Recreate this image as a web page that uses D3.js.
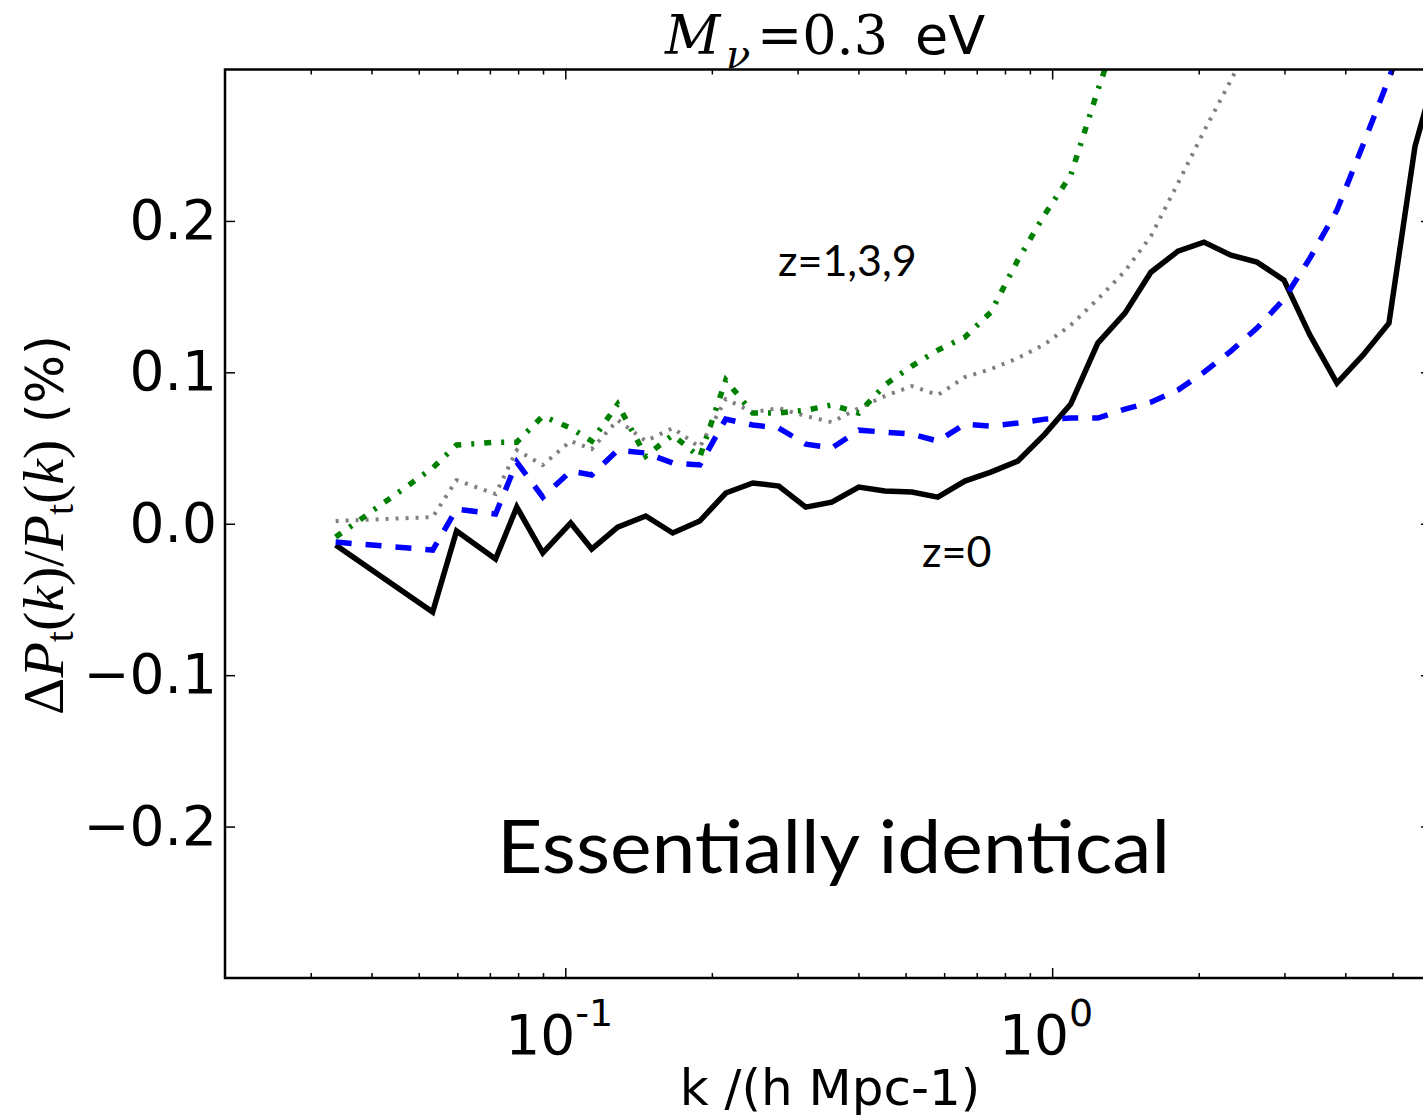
<!DOCTYPE html>
<html>
<head>
<meta charset="utf-8">
<script src="https://cdn.jsdelivr.net/npm/d3@7"></script>
<style>
body { margin: 0; background: #fff; }
</style>
</head>
<body>
<div id="chart"></div>
<script>
// k bins (h/Mpc), shared by all four redshifts
const kVals = [0.03375, 0.0534, 0.0598, 0.0719, 0.0795, 0.0899, 0.1026, 0.1133, 0.1281, 0.1463,
  0.1662, 0.1889, 0.2136, 0.2427, 0.2745, 0.3118, 0.3526, 0.4007, 0.4532, 0.5149,
  0.5823, 0.6616, 0.7482, 0.850, 0.966, 1.092, 1.241, 1.411, 1.595, 1.813,
  2.050, 2.329, 2.634, 2.993, 3.384, 3.846, 4.348, 4.918, 5.563, 6.319];

// z=0, black solid
const z0 = [-0.0141, -0.0583, -0.0048, -0.0233, 0.0110, -0.0193, 0.0005, -0.0167, -0.0022, 0.0051,
  -0.0061, 0.0018, 0.0203, 0.0269, 0.0249, 0.0110, 0.0143, 0.0242, 0.0216, 0.0209,
  0.0176, 0.0282, 0.0341, 0.0414, 0.0592, 0.0790, 0.1193, 0.1391, 0.1661, 0.1800,
  0.1860, 0.1774, 0.1728, 0.1609, 0.1246, 0.0929, 0.1113, 0.1325, 0.2493, 0.313];

// z=1, blue dashed
const z1 = [-0.0121, -0.0174, 0.0097, 0.0064, 0.0407, 0.0176, 0.0348, 0.0322, 0.0486, 0.0467,
  0.0401, 0.0388, 0.0691, 0.0652, 0.0632, 0.0526, 0.0500, 0.0618, 0.0605, 0.0592,
  0.0546, 0.0658, 0.0645, 0.0665, 0.0691, 0.0698, 0.0698, 0.0757, 0.0803, 0.0883,
  0.1001, 0.1140, 0.1292, 0.1483, 0.1754, 0.2071, 0.2500, 0.2942, 0.3391];

// z=3, grey dotted
const z3 = [0.0018, 0.0044, 0.0288, 0.0196, 0.0486, 0.0388, 0.0546, 0.0493, 0.0685, 0.0546,
  0.0632, 0.0506, 0.0823, 0.0737, 0.0764, 0.0711, 0.0671, 0.0764, 0.0843, 0.0909,
  0.0850, 0.0968, 0.1021, 0.1094, 0.1186, 0.1312, 0.1483, 0.1668, 0.1899, 0.2249,
  0.2592, 0.2929, 0.3259];

// z=9, green dash-dot
const z9 = [-0.0088, 0.0368, 0.0520, 0.0539, 0.0539, 0.0711, 0.0632, 0.0546, 0.0790, 0.0447,
  0.0586, 0.0440, 0.0949, 0.0731, 0.0731, 0.0750, 0.0784, 0.0731, 0.0916, 0.1041,
  0.1147, 0.1232, 0.1397, 0.1741, 0.2044, 0.2302, 0.2863, 0.3391];

const yTicks = [-0.2, -0.1, 0.0, 0.1, 0.2];
const xMajor = [0.1, 1];
const xMajorExp = ["-1", "0"];
const xMinor = [0.03, 0.04, 0.05, 0.06, 0.07, 0.08, 0.09, 0.2, 0.3, 0.4, 0.5, 0.6, 0.7, 0.8, 0.9, 2, 3, 4, 5, 6];

const width = 1423, height = 1117;
const plot = {left: 225, top: 69.5, right: 1431, bottom: 978};

const svg = d3.select("#chart").append("svg")
  .attr("width", width)
  .attr("height", height)
  .style("display", "block");

const x = d3.scaleLog().domain([0.02, 6]).range([plot.left, plot.right]);
const y = d3.scaleLinear().domain([-0.3, 0.3]).range([plot.bottom, plot.top]);

svg.append("clipPath").attr("id", "plotclip")
  .append("rect")
  .attr("x", plot.left).attr("y", plot.top)
  .attr("width", plot.right - plot.left).attr("height", plot.bottom - plot.top);

const series = [
  {vals: z0, color: "#000000", w: 5.5, dash: null},
  {vals: z3, color: "#808080", w: 4, dash: "3,7"},
  {vals: z9, color: "#008000", w: 5.5, dash: "7,10,3,10"},
  {vals: z1, color: "#0000ff", w: 5.5, dash: "16,14"}
];

const line = d3.line()
  .x(d => x(d[0]))
  .y(d => y(d[1]));

const lines = svg.append("g").attr("clip-path", "url(#plotclip)");
series.forEach(s => {
  lines.append("path")
    .datum(s.vals.map((v, i) => [kVals[i], v]))
    .attr("fill", "none")
    .attr("stroke", s.color)
    .attr("stroke-width", s.w)
    .attr("stroke-linejoin", "miter")
    .attr("stroke-dasharray", s.dash)
    .attr("d", line);
});

// axes, ticks pointing inward on all four sides
const tickFont = "'DejaVu Sans', sans-serif";

const yLeft = svg.append("g")
  .attr("transform", `translate(${plot.left},0)`)
  .call(d3.axisLeft(y).tickValues(yTicks).tickFormat(d3.format(".1f"))
    .tickSizeInner(-10).tickSizeOuter(0).tickPadding(8));
svg.append("g")
  .attr("transform", `translate(${plot.right},0)`)
  .call(d3.axisRight(y).tickValues(yTicks).tickFormat("")
    .tickSizeInner(-10).tickSizeOuter(0));

svg.append("g")
  .attr("transform", `translate(0,${plot.bottom})`)
  .call(d3.axisBottom(x).tickValues(xMajor).tickFormat("")
    .tickSizeInner(-10).tickSizeOuter(0));
svg.append("g")
  .attr("transform", `translate(0,${plot.bottom})`)
  .call(d3.axisBottom(x).tickValues(xMinor).tickFormat("")
    .tickSizeInner(-5).tickSizeOuter(0));
svg.append("g")
  .attr("transform", `translate(0,${plot.top})`)
  .call(d3.axisTop(x).tickValues(xMajor).tickFormat("")
    .tickSizeInner(-10).tickSizeOuter(0));
svg.append("g")
  .attr("transform", `translate(0,${plot.top})`)
  .call(d3.axisTop(x).tickValues(xMinor).tickFormat("")
    .tickSizeInner(-5).tickSizeOuter(0));

svg.selectAll(".domain").remove();
svg.selectAll(".tick line").attr("stroke", "#000").attr("stroke-width", 1.5);

yLeft.selectAll("text")
  .attr("font-family", tickFont)
  .attr("font-size", 55)
  .attr("fill", "#000");

// x tick labels as 10^n
xMajor.forEach((v, i) => {
  const t = svg.append("text")
    .attr("x", x(v) - 6)
    .attr("y", 1054)
    .attr("text-anchor", "middle")
    .attr("font-family", tickFont)
    .attr("font-size", 55)
    .attr("fill", "#000");
  t.append("tspan").text("10");
  t.append("tspan").attr("dy", -28).attr("font-size", 38).text(xMajorExp[i]);
});

// frame
svg.append("rect")
  .attr("x", plot.left).attr("y", plot.top)
  .attr("width", plot.right - plot.left).attr("height", plot.bottom - plot.top)
  .attr("fill", "none")
  .attr("stroke", "#000")
  .attr("stroke-width", 2.5);

// title: M_nu =0.3 eV
const mathSerif = "'DejaVu Serif', serif";
const title = svg.append("g").attr("fill", "#000");
title.append("text")
  .attr("x", 665).attr("y", 54)
  .attr("font-family", mathSerif).attr("font-style", "italic").attr("font-size", 54)
  .text("M");
title.append("text")
  .attr("x", 726).attr("y", 68)
  .attr("font-family", mathSerif).attr("font-style", "italic").attr("font-size", 40)
  .text("ν");
title.append("text")
  .attr("x", 757).attr("y", 54)
  .attr("font-family", mathSerif).attr("font-size", 54)
  .text("=0.3");
title.append("text")
  .attr("x", 915).attr("y", 54)
  .attr("font-family", tickFont).attr("font-size", 54)
  .text("eV");

// axis labels
svg.append("text")
  .attr("x", 830).attr("y", 1105)
  .attr("text-anchor", "middle")
  .attr("font-family", tickFont)
  .attr("font-size", 50)
  .attr("fill", "#000")
  .text("k /(h Mpc-1)");

const serif = "'Liberation Serif', 'DejaVu Serif', serif";
const ylab = svg.append("text")
  .attr("transform", "translate(63,525) rotate(-90)")
  .attr("text-anchor", "middle")
  .attr("font-family", serif)
  .attr("font-size", 58)
  .attr("fill", "#000");
ylab.append("tspan").text("Δ");
ylab.append("tspan").attr("font-style", "italic").text("P");
ylab.append("tspan").attr("font-size", 40).attr("dy", 10).text("t");
ylab.append("tspan").attr("dy", -10).text("(");
ylab.append("tspan").attr("font-style", "italic").text("k");
ylab.append("tspan").text(")/");
ylab.append("tspan").attr("font-style", "italic").text("P");
ylab.append("tspan").attr("font-size", 40).attr("dy", 10).text("t");
ylab.append("tspan").attr("dy", -10).text("(");
ylab.append("tspan").attr("font-style", "italic").text("k");
ylab.append("tspan").text(")");
ylab.append("tspan").attr("font-family", tickFont).attr("font-size", 51).text(" (%)");

// annotations
const noteFont = "Lato, 'Open Sans', sans-serif";
svg.append("text")
  .attr("x", 778).attr("y", 276)
  .attr("font-family", noteFont).attr("font-size", 43)
  .attr("fill", "#000")
  .text("z=1,3,9");
svg.append("text")
  .attr("x", 922).attr("y", 567)
  .attr("font-family", noteFont).attr("font-size", 43)
  .attr("fill", "#000")
  .text("z=0");
svg.append("text")
  .attr("x", 497).attr("y", 873)
  .attr("font-family", noteFont).attr("font-size", 74)
  .attr("textLength", 673)
  .attr("lengthAdjust", "spacingAndGlyphs")
  .attr("fill", "#000")
  .text("Essentially identical");
</script>
</body>
</html>
